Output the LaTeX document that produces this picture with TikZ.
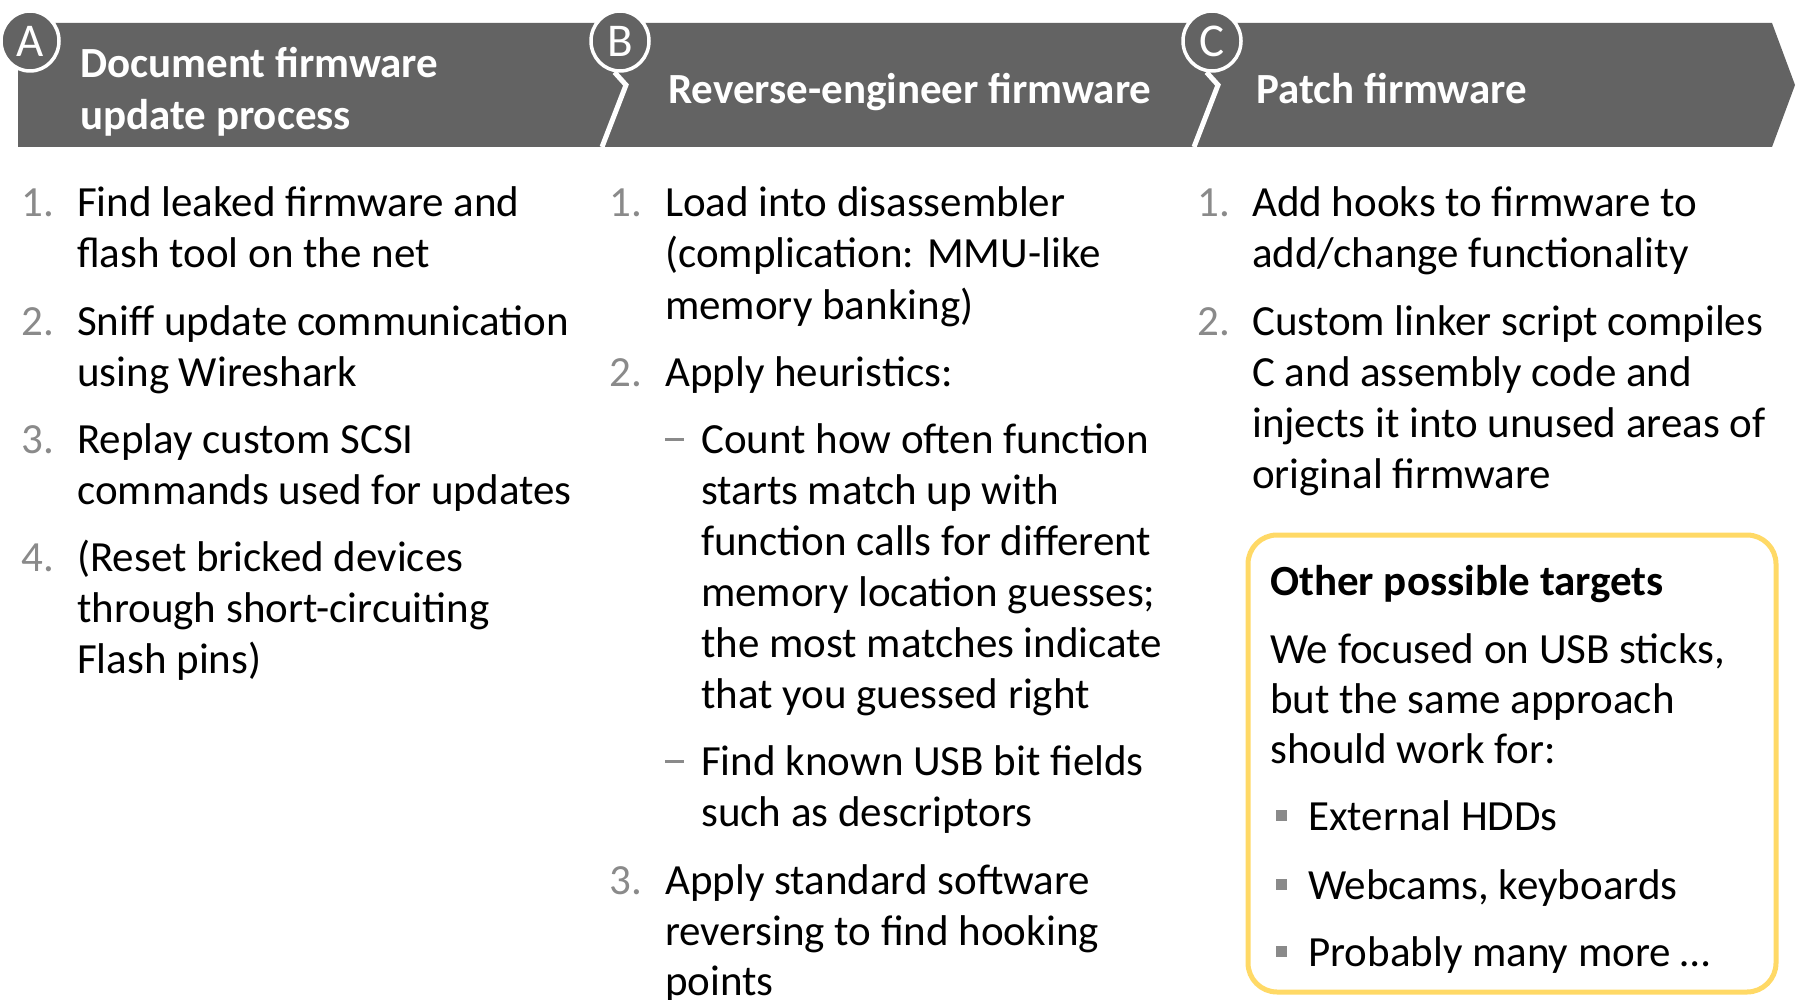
\documentclass[tikz,border=0pt]{standalone}
\usepackage{fontspec}
\setmainfont{Carlito}
\definecolor{hdr}{HTML}{636363}
\definecolor{numgray}{HTML}{8A8A8A}
\definecolor{boxy}{HTML}{FFD966}
\newcommand{\bodyfnt}{\fontsize{43}{50}\selectfont}
\newcommand{\hdrfnt}{\fontsize{43}{50}\selectfont\bfseries}
\newcommand{\subdash}{\rule[12.5pt]{19pt}{2.5pt}}
\tikzset{
  body/.style={anchor=base west, inner sep=0pt, font=\bodyfnt, text=black},
  num/.style={anchor=base west, inner sep=0pt, font=\bodyfnt, text=numgray},
  htext/.style={anchor=base west, inner sep=0pt, font=\hdrfnt, text=white},
  letter/.style={ellipse, minimum width=58pt, minimum height=60pt, inner sep=0pt, fill=hdr, draw=white, line width=3.5pt, text=white, font=\fontsize{47}{48}\selectfont},
  sep/.style={draw=white, line width=5pt},
  sq/.style={rectangle, fill=numgray, minimum size=11pt, inner sep=0pt},
}
\usetikzlibrary{shapes.geometric}
\begin{document}
\begin{tikzpicture}[x=1pt,y=-1pt]
\useasboundingbox (0,0) rectangle (1798,1000);
% header band
\fill[hdr] (18,23) -- (1772,23) -- (1795,85) -- (1772,147) -- (18,147) -- cycle;
\node[letter] (cA) at (30,41) {A};
\node[letter] (cB) at (620,41) {B};
\node[letter] (cC) at (1212,41) {C};
\coordinate (kB) at (626,85);
\coordinate (bB) at (602,147);
\coordinate (kC) at (1218,85);
\coordinate (bC) at (1194,147);
\draw[sep] (cB.-100) -- (kB) -- (bB);
\draw[sep] (cC.-100) -- (kC) -- (bC);
\node[htext] (hA1) at (80,78) {Document firmware};
\node[htext] (hA2) at (80,130) {update process};
\node[htext] (hB) at (668,104) {Reverse-engineer firmware};
\node[htext] (hC) at (1256,104) {Patch firmware};
% column A
\node[num] (nA1) at (21,217) {1.};
\node[body] (tA1a) at (77,217) {Find leaked firmware and};
\node[body] (tA1b) at (77,268) {flash tool on the net};
\node[num] (nA2) at (21,335) {2.};
\node[body] (tA2a) at (77,335) {Sniff update communication};
\node[body] (tA2b) at (77,386) {using Wireshark};
\node[num] (nA3) at (21,453) {3.};
\node[body] (tA3a) at (77,453) {Replay custom SCSI};
\node[body] (tA3b) at (77,504) {commands used for updates};
\node[num] (nA4) at (21,571) {4.};
\node[body] (tA4a) at (77,571) {(Reset bricked devices};
\node[body] (tA4b) at (77,622) {through short-circuiting};
\node[body] (tA4c) at (77,673) {Flash pins)};
% column B
\node[num] (nB1) at (609,217) {1.};
\node[body] (tB1a) at (665,217) {Load into disassembler};
\node[body] (tB1b) at (665,268) {(complication: MMU-like};
\node[body] (tB1c) at (665,319) {memory banking)};
\node[num] (nB2) at (609,386) {2.};
\node[body] (tB2a) at (665,386) {Apply heuristics:};
\node[num] (dB1) at (665,453) {\subdash};
\node[body] (sB1a) at (701,453) {Count how often function};
\node[body] (sB1b) at (701,504) {starts match up with};
\node[body] (sB1c) at (701,555) {function calls for different};
\node[body] (sB1d) at (701,606) {memory location guesses;};
\node[body] (sB1e) at (701,657) {the most matches indicate};
\node[body] (sB1f) at (701,708) {that you guessed right};
\node[num] (dB2) at (665,775) {\subdash};
\node[body] (sB2a) at (701,775) {Find known USB bit fields};
\node[body] (sB2b) at (701,826) {such as descriptors};
\node[num] (nB3) at (609,894) {3.};
\node[body] (tB3a) at (665,894) {Apply standard software};
\node[body] (tB3b) at (665,945) {reversing to find hooking};
\node[body] (tB3c) at (665,995) {points};
% column C
\node[num] (nC1) at (1197,217) {1.};
\node[body] (tC1a) at (1252,217) {Add hooks to firmware to};
\node[body] (tC1b) at (1252,268) {add/change functionality};
\node[num] (nC2) at (1197,335) {2.};
\node[body] (tC2a) at (1252,335) {Custom linker script compiles};
\node[body] (tC2b) at (1252,386) {C and assembly code and};
\node[body] (tC2c) at (1252,437) {injects it into unused areas of};
\node[body] (tC2d) at (1252,488) {original firmware};
% yellow box
\draw[boxy, line width=5pt, rounded corners=29pt] (1248,535) rectangle (1776,992);
\node[body, font=\bodyfnt\bfseries] (bt) at (1270,595) {Other possible targets};
\node[body] (bp1) at (1270,663) {We focused on USB sticks,};
\node[body] (bp2) at (1270,713) {but the same approach};
\node[body] (bp3) at (1270,763) {should work for:};
\node[sq] (q1) at (1281,815) {};
\node[body] (bl1) at (1308,830) {External HDDs};
\node[sq] (q2) at (1281,884) {};
\node[body] (bl2) at (1308,899) {Webcams, keyboards};
\node[sq] (q3) at (1281,951) {};
\node[body] (bl3) at (1308,966) {Probably many more …};
\end{tikzpicture}
\end{document}
